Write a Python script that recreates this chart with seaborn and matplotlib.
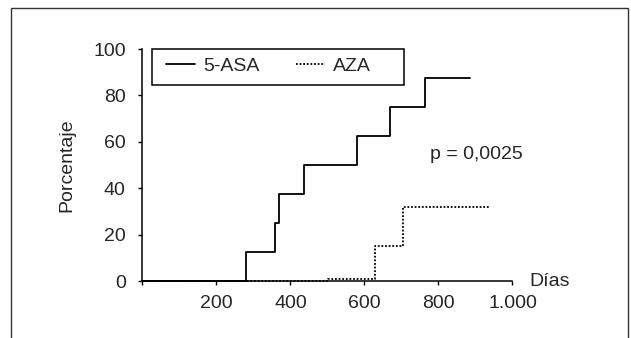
import matplotlib
matplotlib.use("Agg")
import matplotlib.pyplot as plt
from matplotlib.patches import Rectangle
import seaborn as sns

# Datos (porcentaje acumulado frente a días)
asa_days = [0, 280, 358, 368, 436, 579, 670, 764, 884]
asa_pct = [0, 12.5, 25, 37.5, 50, 62.5, 75, 87.5, 87.5]
aza_days = [0, 502, 629, 703, 938]
aza_pct = [0, 1, 15, 32, 32]

x_ticks = [0, 200, 400, 600, 800, 1000]
x_labels = ["", "200", "400", "600", "800", "1.000"]
y_ticks = [0, 20, 40, 60, 80, 100]

sns.set_style("ticks")
plt.rcParams["font.family"] = ["Liberation Sans", "DejaVu Sans"]

fig = plt.figure(figsize=(6.31, 3.38), dpi=100)
ax = fig.add_axes([0.2258, 0.1686, 0.5864, 0.6864])

sns.lineplot(x=asa_days, y=asa_pct, ax=ax, color="black", lw=1.3,
             drawstyle="steps-post", label="5-ASA", clip_on=False)
sns.lineplot(x=aza_days, y=aza_pct, ax=ax, color="black", lw=1.3,
             linestyle=(0, (1.0, 1.0)), drawstyle="steps-post", label="AZA",
             clip_on=False)

ax.set_xlim(0, 1000)
ax.set_ylim(0, 100)
ax.set_xticks(x_ticks)
ax.set_xticklabels(x_labels)
ax.set_yticks(y_ticks)
ax.tick_params(axis="both", labelsize=14, length=3, width=1, color="black")
ax.tick_params(axis="x", pad=7)
ax.tick_params(axis="y", pad=9)
sns.despine(ax=ax)
for s in ["left", "bottom"]:
    ax.spines[s].set_linewidth(1.1)
    ax.spines[s].set_color("black")

ax.set_ylabel("Porcentaje", fontsize=14)
ax.yaxis.set_label_coords(-0.182, 0.5)
ax.set_xlabel("")
ax.text(1045, 0, "Días", fontsize=14, ha="left", va="center", clip_on=False)
ax.text(777, 54.7, "p = 0,0025", fontsize=14, ha="left", va="center")

leg = ax.legend(loc="center left", bbox_to_anchor=(0.0635, 0.927), ncol=2,
                frameon=False, fontsize=14, borderpad=0, borderaxespad=0,
                handlelength=1.5, handletextpad=0.4, columnspacing=1.9)
ax.add_patch(Rectangle((0.0257, 0.845), 0.681, 0.155, transform=ax.transAxes,
                       fill=False, edgecolor="black", lw=1.1, clip_on=False))

# marco exterior
fig.patches.append(Rectangle((0.0174, -0.05), 0.9776, 1.026,
                             transform=fig.transFigure, fill=False,
                             edgecolor="#333333", lw=1.0))

fig.savefig("out.png", dpi=100)
